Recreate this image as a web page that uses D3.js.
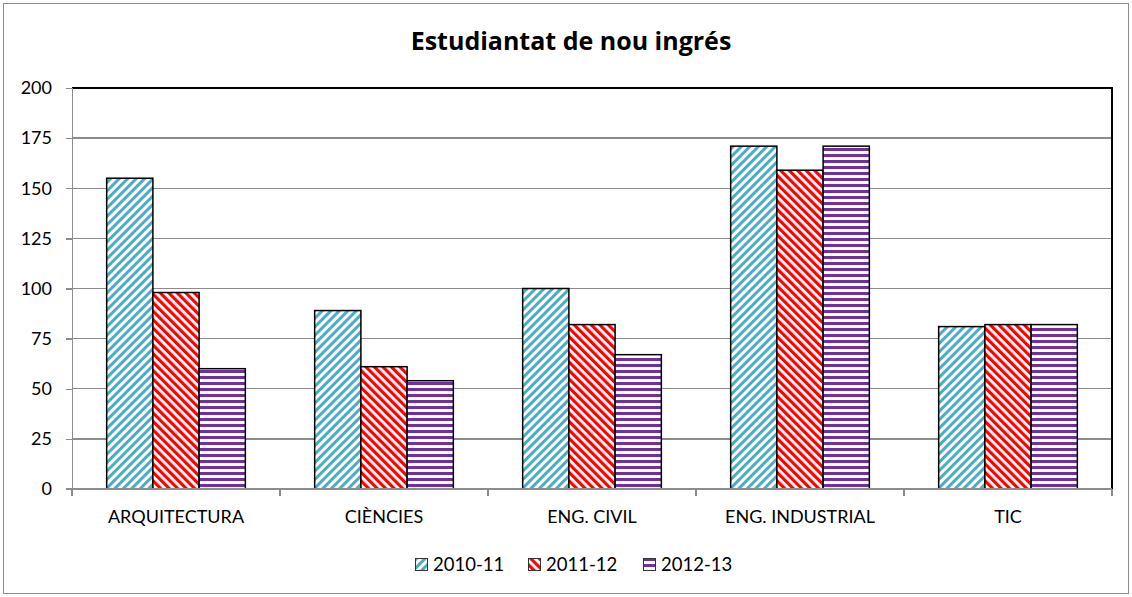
<!DOCTYPE html>
<html lang="ca">
<head>
<meta charset="utf-8">
<title>Estudiantat de nou ingrés</title>
<style>
  body { margin: 0; background: #fff; }
  svg text { font-family: Lato, "Open Sans", "Liberation Sans", sans-serif; fill: #000; }
  .grid line { stroke: #8c8c8c; stroke-width: 1.3; shape-rendering: crispEdges; }
  .axis path, .axis line { stroke: #8c8c8c; stroke-width: 1.3; shape-rendering: crispEdges; }
</style>
</head>
<body>
<div id="container"></div>
<script src="https://cdnjs.cloudflare.com/ajax/libs/d3/7.8.5/d3.min.js"></script>
<script>
// chart data
var categories = ["ARQUITECTURA", "CIÈNCIES", "ENG. CIVIL", "ENG. INDUSTRIAL", "TIC"];
var seriesNames = ["2010-11", "2011-12", "2012-13"];
var values2010 = [155, 89, 100, 171, 81];
var values2011 = [98, 61, 82, 159, 82];
var values2012 = [60, 54, 67, 171, 82];
var yTicks = [0, 25, 50, 75, 100, 125, 150, 175, 200];

var seriesValues = [values2010, values2011, values2012];
var colors = ["#4bacc6", "#ff0000", "#7030a0"];

var W = 1132, H = 597;
var margin = {top: 88, right: 20, bottom: 108, left: 72};
var width = W - margin.left - margin.right,
    height = H - margin.top - margin.bottom;

var svg = d3.select("#container").append("svg")
  .attr("width", W).attr("height", H);

// patterns
var defs = svg.append("defs");
// wide upward diagonal
var p0 = defs.append("pattern").attr("id", "pat0").attr("patternUnits", "userSpaceOnUse")
  .attr("width", 6).attr("height", 6).attr("patternTransform", "rotate(45)");
p0.append("rect").attr("width", 6).attr("height", 6).attr("fill", "#fff");
p0.append("rect").attr("width", 3).attr("height", 6).attr("fill", colors[0]);
// wide downward diagonal
var p1 = defs.append("pattern").attr("id", "pat1").attr("patternUnits", "userSpaceOnUse")
  .attr("width", 6).attr("height", 6).attr("patternTransform", "rotate(-45)");
p1.append("rect").attr("width", 6).attr("height", 6).attr("fill", "#fff");
p1.append("rect").attr("width", 3.2).attr("height", 6).attr("fill", colors[1]);
// horizontal stripes
var p2 = defs.append("pattern").attr("id", "pat2").attr("patternUnits", "userSpaceOnUse")
  .attr("width", 6).attr("height", 6);
p2.append("rect").attr("width", 6).attr("height", 6).attr("fill", "#fff");
p2.append("rect").attr("y", 0).attr("width", 6).attr("height", 3).attr("fill", colors[2]);

// outer chart border
svg.append("rect")
  .attr("x", 3.5).attr("y", 3.5).attr("width", W - 7).attr("height", H - 7)
  .attr("fill", "none").attr("stroke", "#8c8c8c").attr("stroke-width", 1);

svg.append("text")
  .attr("x", 571).attr("y", 50)
  .attr("text-anchor", "middle")
  .style("font-family", "'Open Sans', Lato, sans-serif")
  .style("font-size", "25px").style("font-weight", "bold")
  .text("Estudiantat de nou ingrés");

var chart = svg.append("g")
  .attr("transform", "translate(" + margin.left + "," + margin.top + ")");

var x0 = d3.scaleBand().domain(categories).range([0, width]).paddingInner(0).paddingOuter(0);
var bw = x0.bandwidth() / 4.5;
var x1 = d3.scaleBand().domain(seriesNames).range([0.75 * bw, x0.bandwidth() - 0.75 * bw]);
var y = d3.scaleLinear().domain([0, 200]).range([height, 0]);

// gridlines
chart.append("g").attr("class", "grid")
  .selectAll("line").data(yTicks.slice(1)).enter().append("line")
  .attr("x1", 0).attr("x2", width)
  .attr("y1", function(d) { return y(d); }).attr("y2", function(d) { return y(d); });

// plot frame top/right
chart.append("path")
  .attr("d", "M0," + y(200) + "H" + width + "V" + height)
  .attr("fill", "none").attr("stroke", "#000").attr("stroke-width", 1.3)
  .style("shape-rendering", "crispEdges");

// bars
var groups = chart.selectAll("g.cat").data(categories).enter().append("g")
  .attr("class", "cat")
  .attr("transform", function(d) { return "translate(" + x0(d) + ",0)"; });

groups.selectAll("rect")
  .data(function(d, i) {
    return seriesNames.map(function(s, j) { return {s: s, j: j, v: seriesValues[j][i]}; });
  })
  .enter().append("rect")
  .attr("x", function(d) { return x1(d.s); })
  .attr("width", x1.bandwidth())
  .attr("y", function(d) { return y(d.v); })
  .attr("height", function(d) { return height - y(d.v); })
  .attr("fill", function(d) { return "url(#pat" + d.j + ")"; })
  .attr("stroke", "#000").attr("stroke-width", 1.5);

// axes
var yAxis = chart.append("g").attr("class", "axis")
  .call(d3.axisLeft(y).tickValues(yTicks).tickSize(6).tickPadding(14));
yAxis.selectAll("text").style("font-size", "18px");

var xAxis = chart.append("g").attr("class", "axis")
  .attr("transform", "translate(0," + height + ")")
  .call(d3.axisBottom(x0).tickSize(0).tickPadding(21));
xAxis.selectAll("text").style("font-size", "18px");
xAxis.select(".domain").remove();
xAxis.append("line").attr("x1", -6).attr("x2", width).attr("y1", 0).attr("y2", 0)
  .attr("stroke", "#8c8c8c").attr("stroke-width", 1.3).style("shape-rendering", "crispEdges");
xAxis.selectAll("line.sep")
  .data(d3.range(categories.length + 1)).enter().append("line")
  .attr("class", "sep")
  .attr("x1", function(i) { return i * x0.step(); })
  .attr("x2", function(i) { return i * x0.step(); })
  .attr("y1", 0).attr("y2", 7);

// legend
var legendX = [415, 528, 643];
var legend = svg.append("g").attr("transform", "translate(0,558)");
var items = legend.selectAll("g").data(seriesNames).enter().append("g")
  .attr("transform", function(d, i) { return "translate(" + legendX[i] + ",0)"; });
items.append("rect")
  .attr("x", 0.5).attr("y", 0.5).attr("width", 12).attr("height", 12)
  .attr("fill", function(d, i) { return "url(#pat" + i + ")"; })
  .attr("stroke", "#333").attr("stroke-width", 1);
items.append("text")
  .attr("x", 18).attr("y", 13)
  .style("font-size", "18.5px")
  .text(function(d) { return d; });
</script>
</body>
</html>
